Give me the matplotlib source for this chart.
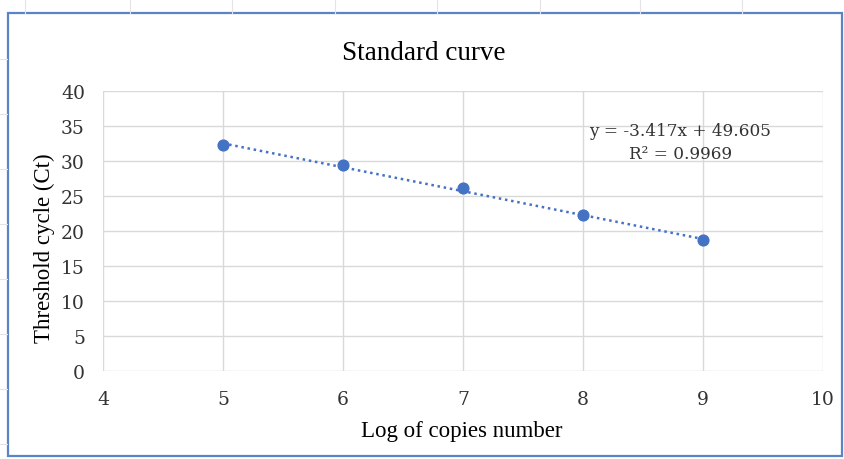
import numpy as np
import matplotlib
matplotlib.use('Agg')
import matplotlib.pyplot as plt
from matplotlib.patches import Rectangle

# data
log_copies = [5, 6, 7, 8, 9]
ct_values = [32.3, 29.4, 26.1, 22.3, 18.7]
slope = -3.417
intercept = 49.605
r2 = 0.9969
x_ticks = [4, 5, 6, 7, 8, 9, 10]
y_ticks = [0, 5, 10, 15, 20, 25, 30, 35, 40]

blue = '#4472C4'
grid_c = '#d9d9d9'
txt_c = '#333333'
serif = ['Liberation Serif', 'DejaVu Serif']
tick_font = ['DejaVu Serif']

fig = plt.figure(figsize=(8.45, 4.6), dpi=100)

# faint spreadsheet cells outside the chart frame
for xv in [25, 130, 232, 335, 437, 540, 640, 742]:
    fig.add_artist(plt.Line2D([xv / 845, xv / 845], [1, 1 - 14 / 460],
                              transform=fig.transFigure, color='#e4e4e4', lw=0.8))
for yv in [60, 115, 170, 225, 280, 335, 390, 445]:
    fig.add_artist(plt.Line2D([0, 7 / 845], [1 - yv / 460, 1 - yv / 460],
                              transform=fig.transFigure, color='#e4e4e4', lw=0.8))

# chart frame
fig.add_artist(Rectangle((8 / 845, 1 - 457 / 460), 834 / 845, 443 / 460,
                         transform=fig.transFigure, fill=False,
                         edgecolor='#5b84c6', lw=1.6))

ax = fig.add_axes([103 / 845, 1 - 372 / 460, 720 / 845, 280 / 460])

xs = np.array([log_copies[0], log_copies[-1]])
ax.plot(xs, slope * xs + intercept, linestyle=(0, (1, 1.5)), color=blue, lw=1.8, zorder=2)
ax.scatter(log_copies, ct_values, s=60, color=blue, zorder=3)

ax.set_xlim(4, 10)
ax.set_ylim(0, 40)
ax.set_xticks(x_ticks)
ax.set_yticks(y_ticks)
ax.grid(True, color=grid_c, lw=1)
ax.set_axisbelow(True)
for s in ax.spines.values():
    s.set_visible(False)
ax.tick_params(length=0, labelsize=13.5, colors=txt_c)
ax.tick_params(axis='y', pad=13)
ax.tick_params(axis='x', pad=14)
for lab in ax.get_xticklabels() + ax.get_yticklabels():
    lab.set_family(tick_font)

ax.text(8.81, 34.3, f'y = {slope}x + {intercept}', ha='center', va='center',
        fontsize=12.2, family=tick_font, color=txt_c)
ax.text(8.81, 31.0, f'R² = {r2}', ha='center', va='center',
        fontsize=12.2, family=tick_font, color=txt_c)

fig.text(424 / 845, 1 - 53 / 460, 'Standard curve', ha='center', va='center',
         fontsize=19.5, family=serif)
fig.text(462 / 845, 1 - 432 / 460, 'Log of copies number', ha='center', va='center',
         fontsize=16.5, family=serif)
fig.text(44 / 845, 1 - 248 / 460, 'Threshold cycle (Ct)', ha='center', va='center',
         fontsize=16.5, family=serif, rotation=90)

fig.savefig('out.png', dpi=100)
